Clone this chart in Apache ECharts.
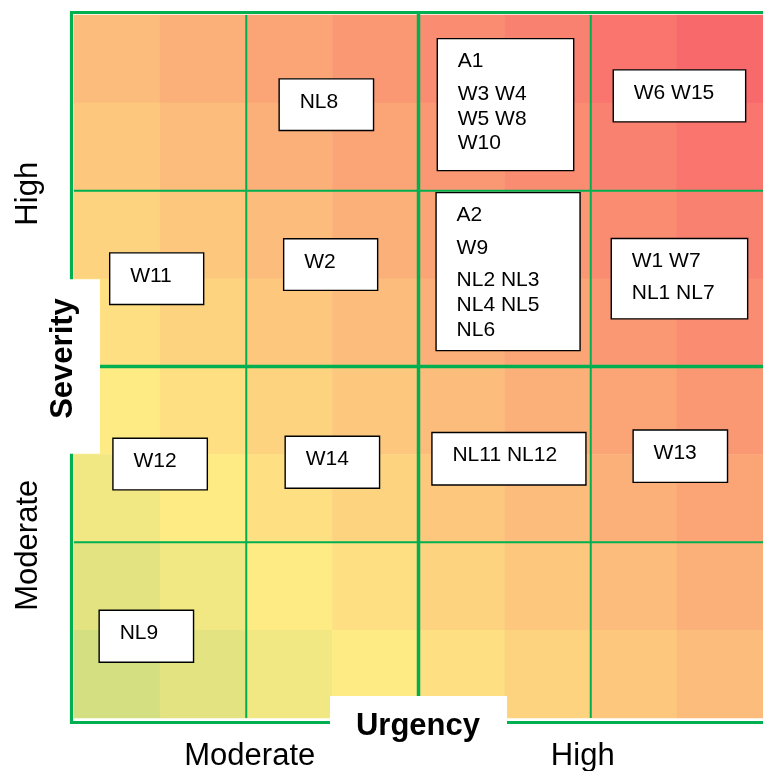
<!DOCTYPE html>
<html>
<head>
<meta charset="utf-8">
<script src="https://cdn.jsdelivr.net/npm/echarts@6.0.0/dist/echarts.min.js"></script>
<style>
  html, body { margin: 0; padding: 0; background: #ffffff; }
  #chart { width: 763px; height: 771px; }
</style>
</head>
<body>
<div id="chart"></div>
<script>
// Risk matrix: urgency (x) against severity (y), coloured by combined risk score.

// Sub-levels of the colour field (8 columns, 8 rows)
const urgencySteps = ['U1', 'U2', 'U3', 'U4', 'U5', 'U6', 'U7', 'U8'];
const severitySteps = ['S1', 'S2', 'S3', 'S4', 'S5', 'S6', 'S7', 'S8'];

// Banded axis labels
const urgencyBands = ['Moderate', 'High'];
const severityBands = ['Moderate', 'High'];

// Combined risk score per cell, highest severity row first
const scoreRows = [
  [7, 8, 9, 10, 11, 12, 13, 14],
  [6, 7, 8, 9, 10, 11, 12, 13],
  [5, 6, 7, 8, 9, 10, 11, 12],
  [4, 5, 6, 7, 8, 9, 10, 11],
  [3, 4, 5, 6, 7, 8, 9, 10],
  [2, 3, 4, 5, 6, 7, 8, 9],
  [1, 2, 3, 4, 5, 6, 7, 8],
  [0, 1, 2, 3, 4, 5, 6, 7]
];

// Colour scale range (green -> yellow -> red)
const scoreScaleMin = -8;
const scoreScaleMax = 14;

// Quadrant boundaries on the 0-8 scale; the middle one splits Moderate / High
const urgencyBreaks = [2, 4, 6];
const severityBreaks = [2, 4, 6];
const bandSplit = 4;

// Item groups placed in the matrix (each inner list is one block of lines)
const groupLabels = [
  [['NL8']],
  [['A1'], ['W3 W4', 'W5 W8', 'W10']],
  [['W6 W15']],
  [['W11']],
  [['W2']],
  [['A2'], ['W9'], ['NL2 NL3', 'NL4 NL5', 'NL6']],
  [['W1 W7'], ['NL1 NL7']],
  [['W12']],
  [['W14']],
  [['NL11 NL12']],
  [['W13']],
  [['NL9']]
];
const groupUrgency  = [2.93, 5.01, 7.03, 0.96, 2.98, 5.04, 7.03, 1.00, 3.00, 5.05, 7.04, 0.84];
const groupSeverity = [6.98, 6.98, 7.08, 5.00, 5.16, 5.08, 5.00, 2.89, 2.91, 2.95, 2.98, 0.93];

// ---- layout / style ----
const boxSizes = [
  [94.4, 51.6], [136.4, 132], [132.4, 52], [94, 51.6], [94, 51.6], [144, 158],
  [136.4, 80.4], [94.4, 51.6], [94.4, 52], [154, 52.4], [94.4, 52.4], [94.4, 52]
];
const GREEN = '#00B050';
const FONT = '"Liberation Sans", Arial, Helvetica, sans-serif';

const heatData = [];
scoreRows.forEach((row, r) => {
  const sev = severitySteps.length - 1 - r;
  row.forEach((score, c) => heatData.push([c, sev, score]));
});

const chart = echarts.init(document.getElementById('chart'), null, { renderer: 'canvas' });

chart.setOption({
  animation: false,
  backgroundColor: '#ffffff',
  textStyle: { fontFamily: FONT },
  grid: { left: 74, top: 15, width: 689, height: 703, containLabel: false, outerBoundsMode: 'none' },
  visualMap: {
    type: 'continuous', show: false, seriesIndex: 0, dimension: 2,
    min: scoreScaleMin, max: scoreScaleMax,
    inRange: { color: ['#63BE7B', '#FFEB84', '#F8696B'] }
  },
  xAxis: [
    { type: 'category', data: urgencySteps, show: false },
    {
      type: 'category', data: urgencyBands, position: 'bottom', z: 10,
      axisLine: { show: false }, axisTick: { show: false }, splitLine: { show: false },
      axisLabel: {
        interval: 0, margin: 23,
        formatter: (v, i) => '{b' + i + '|' + v + '}',
        rich: {
          b0: { fontSize: 31, fontFamily: FONT, color: '#000', padding: [0, 0, 0, 7] },
          b1: { fontSize: 31, fontFamily: FONT, color: '#000', padding: [0, 16, 0, 0] }
        }
      },
      name: 'Urgency', nameLocation: 'middle', nameGap: -22, nameMoveOverlap: false,
      nameTextStyle: {
        fontSize: 31, fontWeight: 'bold', fontFamily: FONT, color: '#000',
        backgroundColor: '#ffffff', padding: [14.5, 27, 40, 26]
      }
    },
    { type: 'value', min: 0, max: 8, show: false }
  ],
  yAxis: [
    { type: 'category', data: severitySteps, show: false },
    {
      type: 'category', data: severityBands, position: 'left', z: 10,
      axisLine: { show: false }, axisTick: { show: false }, splitLine: { show: false },
      axisLabel: {
        interval: 0, rotate: 90, margin: 30,
        fontSize: 31, fontFamily: FONT, color: '#000', padding: [0, 6, 0, 0]
      },
      name: 'Severity', nameLocation: 'middle', nameRotate: 90, nameGap: -26, nameMoveOverlap: false,
      nameTextStyle: {
        fontSize: 31, fontWeight: 'bold', fontFamily: FONT, color: '#000',
        backgroundColor: '#ffffff', padding: [50, 19, 21.5, 35]
      }
    },
    { type: 'value', min: 0, max: 8, show: false }
  ],
  series: [
    {
      type: 'heatmap', xAxisIndex: 0, yAxisIndex: 0, z: 2,
      data: heatData,
      itemStyle: { borderWidth: 0 },
      emphasis: { disabled: true }
    },
    {
      // vertical quadrant lines
      type: 'custom', xAxisIndex: 2, yAxisIndex: 2, z: 3, clip: false, silent: true,
      data: urgencyBreaks.map(v => [v, 0]),
      renderItem: (params, api) => {
        const v = api.value(0);
        const top = api.coord([v, 8]);
        const bottom = api.coord([v, 0]);
        const main = v === bandSplit;
        return {
          type: 'line',
          shape: { x1: top[0], y1: main ? top[1] - 3 : top[1], x2: bottom[0], y2: bottom[1] },
          style: { stroke: GREEN, lineWidth: main ? 3.5 : 2 }
        };
      }
    },
    {
      // horizontal quadrant lines
      type: 'custom', xAxisIndex: 2, yAxisIndex: 2, z: 3, clip: false, silent: true,
      data: severityBreaks.map(v => [0, v]),
      renderItem: (params, api) => {
        const v = api.value(1);
        const left = api.coord([0, v]);
        const right = api.coord([8, v]);
        const main = v === bandSplit;
        return {
          type: 'line',
          shape: { x1: left[0], y1: left[1], x2: right[0] + 2, y2: right[1] },
          style: { stroke: GREEN, lineWidth: main ? 3.5 : 2 }
        };
      }
    },
    {
      // outer frame: top, left and bottom edges
      type: 'custom', xAxisIndex: 2, yAxisIndex: 2, z: 3, clip: false, silent: true,
      data: [[0, 0]],
      renderItem: (params, api) => {
        const tl = api.coord([0, 8]);
        const br = api.coord([8, 0]);
        return {
          type: 'polyline',
          shape: { points: [
            [br[0] + 10, tl[1] - 2.5], [tl[0] - 2.5, tl[1] - 2.5],
            [tl[0] - 2.5, br[1] + 4.5], [br[0] + 10, br[1] + 4.5]
          ] },
          style: { stroke: GREEN, lineWidth: 3.2, fill: null }
        };
      }
    },
    {
      // labelled item groups
      type: 'custom', xAxisIndex: 2, yAxisIndex: 2, z: 4, clip: false, silent: true,
      data: groupUrgency.map((u, i) => [u, groupSeverity[i]]),
      renderItem: (params, api) => {
        const i = params.dataIndex;
        const c = api.coord([api.value(0), api.value(1)]);
        const w = boxSizes[i][0], h = boxSizes[i][1];
        const left = c[0] - w / 2, top = c[1] - h / 2;
        const children = [{
          type: 'rect',
          shape: { x: left, y: top, width: w, height: h },
          style: { fill: '#ffffff', stroke: '#000000', lineWidth: 1.4 }
        }];
        let baseline = top + 30.3;
        groupLabels[i].forEach((block, g) => {
          if (g > 0) baseline += 32.2;
          block.forEach((line, k) => {
            if (k > 0) baseline += 24.9;
            children.push({
              type: 'text',
              x: left + 20.5,
              y: baseline - 7.3,
              style: {
                text: line, fill: '#000000',
                font: '21px ' + FONT,
                align: 'left', verticalAlign: 'middle'
              }
            });
          });
        });
        return { type: 'group', children };
      }
    }
  ]
});
</script>
</body>
</html>
